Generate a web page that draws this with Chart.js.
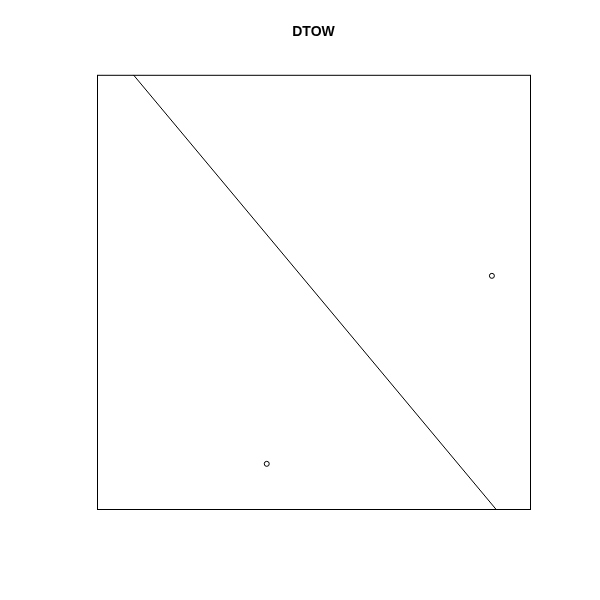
<!DOCTYPE html>
<html>
<head>
<meta charset="utf-8">
<script src="https://cdn.jsdelivr.net/npm/chart.js@4"></script>
<style>
  body { margin: 0; background: #fff; }
</style>
</head>
<body>
<canvas id="c" width="600" height="600"></canvas>
<script>
// DTOW plot: two observations and a fitted line
const pointX = [0.392, 0.912];
const pointY = [0.104, 0.537];
const lineX = [0.084, 0.921];
const lineY = [1, 0];

const boxPlugin = {
    id: 'box',
    afterDraw(chart) {
        const a = chart.chartArea;
        const ctx = chart.ctx;
        ctx.save();
        ctx.strokeStyle = '#000';
        ctx.lineWidth = 1;
        ctx.strokeRect(a.left + 0.5, a.top + 0.5, a.right - a.left, a.bottom - a.top);
        ctx.restore();
    }
};

new Chart(document.getElementById('c'), {
    type: 'scatter',
    data: {
        datasets: [
            {
                type: 'line',
                data: lineX.map((x, i) => ({ x: x, y: lineY[i] })),
                borderColor: '#000',
                borderWidth: 1,
                pointRadius: 0,
                fill: false
            },
            {
                data: pointX.map((x, i) => ({ x: x, y: pointY[i] })),
                backgroundColor: '#fff',
                borderColor: '#000',
                borderWidth: 1,
                pointRadius: 2.5
            }
        ]
    },
    options: {
        responsive: false,
        animation: false,
        layout: { padding: { left: 97, right: 70, top: 0, bottom: 91 } },
        plugins: {
            legend: { display: false },
            tooltip: { enabled: false },
            title: {
                display: true,
                text: 'DTOW',
                color: '#000',
                font: { family: 'Liberation Sans, Arial', size: 14, weight: 'bold' },
                padding: { top: 24, bottom: 34 }
            }
        },
        scales: {
            x: { type: 'linear', min: 0, max: 1, display: false },
            y: { type: 'linear', min: 0, max: 1, display: false }
        }
    },
    plugins: [boxPlugin]
});
</script>
</body>
</html>
